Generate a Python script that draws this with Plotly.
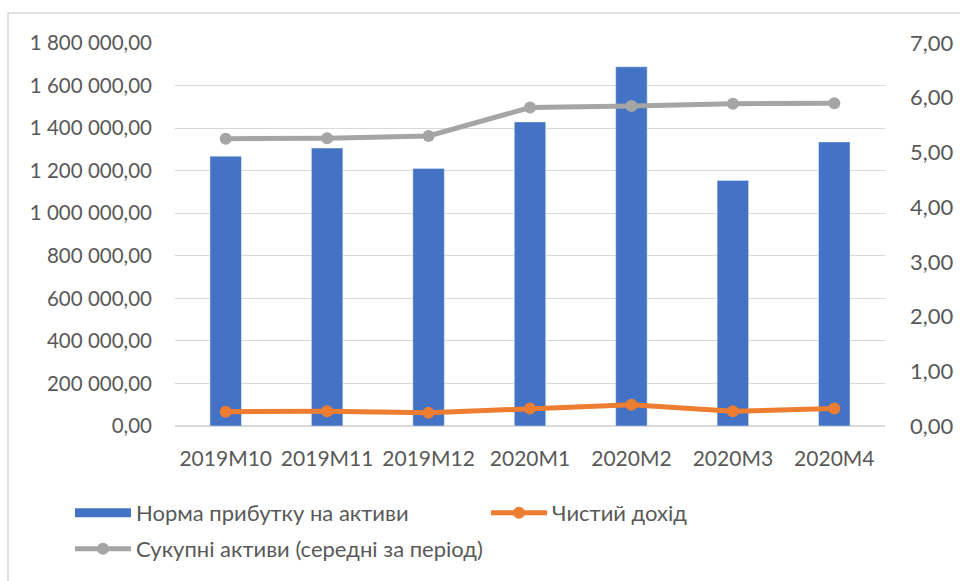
import plotly.graph_objects as go

categories = ["2019M10", "2019M11", "2019M12", "2020M1", "2020M2", "2020M3", "2020M4"]
roa = [1268000, 1306000, 1210000, 1429000, 1688000, 1154000, 1335000]
net_income = [0.26, 0.27, 0.24, 0.32, 0.39, 0.27, 0.32]
total_assets = [5.25, 5.26, 5.30, 5.82, 5.85, 5.89, 5.90]

name_roa = "Норма прибутку на активи"
name_ni = "Чистий дохід"
name_ta = "Сукупні активи (середні за період)"

BLUE = "#4472C4"
ORANGE = "#ED7D31"
GRAY = "#A5A5A5"
FONT = "Lato, 'Open Sans', sans-serif"
TXT = "#595959"

fig = go.Figure()
fig.add_trace(go.Bar(x=categories, y=roa, name=name_roa, marker_color=BLUE,
                     width=0.31, showlegend=False, yaxis="y"))
# legend proxy for bar (wide swatch)
fig.add_trace(go.Scatter(x=[None], y=[None], mode="lines", name=name_roa,
                         line=dict(color=BLUE, width=9), legend="legend"))
fig.add_trace(go.Scatter(x=categories, y=net_income, name=name_ni, mode="lines+markers",
                         line=dict(color=ORANGE, width=5), marker=dict(size=12, color=ORANGE),
                         yaxis="y2", legend="legend"))
fig.add_trace(go.Scatter(x=categories, y=total_assets, name=name_ta, mode="lines+markers",
                         line=dict(color=GRAY, width=5), marker=dict(size=12, color=GRAY),
                         yaxis="y2", legend="legend2"))

W, H = 960, 581
L, R, T, B = 175, 75, 43, 155
pw = W - L - R
ph = H - T - B

def px2x(px):
    return (px - L) / pw

def py2y(py):
    return (H - B - py) / ph

fig.update_layout(
    width=W, height=H,
    margin=dict(l=L, r=R, t=T, b=B, autoexpand=False),
    paper_bgcolor="white", plot_bgcolor="white",
    separators=", ",
    font=dict(family=FONT, size=20, color=TXT),
    xaxis=dict(showline=False, showgrid=False, ticks="", tickfont=dict(size=21, color=TXT),
               ticklabelstandoff=18, automargin=False),
    yaxis=dict(range=[0, 1800000], dtick=200000, tickformat=",.2f", showgrid=True,
               gridcolor="#d9d9d9", gridwidth=1, zeroline=True, zerolinecolor="#d9d9d9",
               showline=False, ticks="", tickfont=dict(size=20.5, color=TXT),
               ticklabelstandoff=22, automargin=False),
    yaxis2=dict(range=[0, 7], dtick=1, tickformat=".2f", overlaying="y", side="right",
                showgrid=False, zeroline=False, showline=False, ticks="",
                tickfont=dict(size=22, color=TXT), ticklabelstandoff=24, automargin=False),
    legend=dict(orientation="h", x=px2x(70), xanchor="left", y=py2y(492), yanchor="top",
                font=dict(size=22, color=TXT), itemwidth=56, entrywidth=345,
                bgcolor="rgba(0,0,0,0)"),
    legend2=dict(orientation="h", x=px2x(70), xanchor="left", y=py2y(528), yanchor="top",
                 font=dict(size=22, color=TXT), itemwidth=56, bgcolor="rgba(0,0,0,0)"),
    shapes=[dict(type="rect", xref="paper", yref="paper",
                 x0=px2x(8), x1=px2x(965), y0=py2y(590), y1=py2y(13),
                 line=dict(color="#d9d9d9", width=1.5), fillcolor="rgba(0,0,0,0)", layer="below")],
)

fig.write_html("out.html")
